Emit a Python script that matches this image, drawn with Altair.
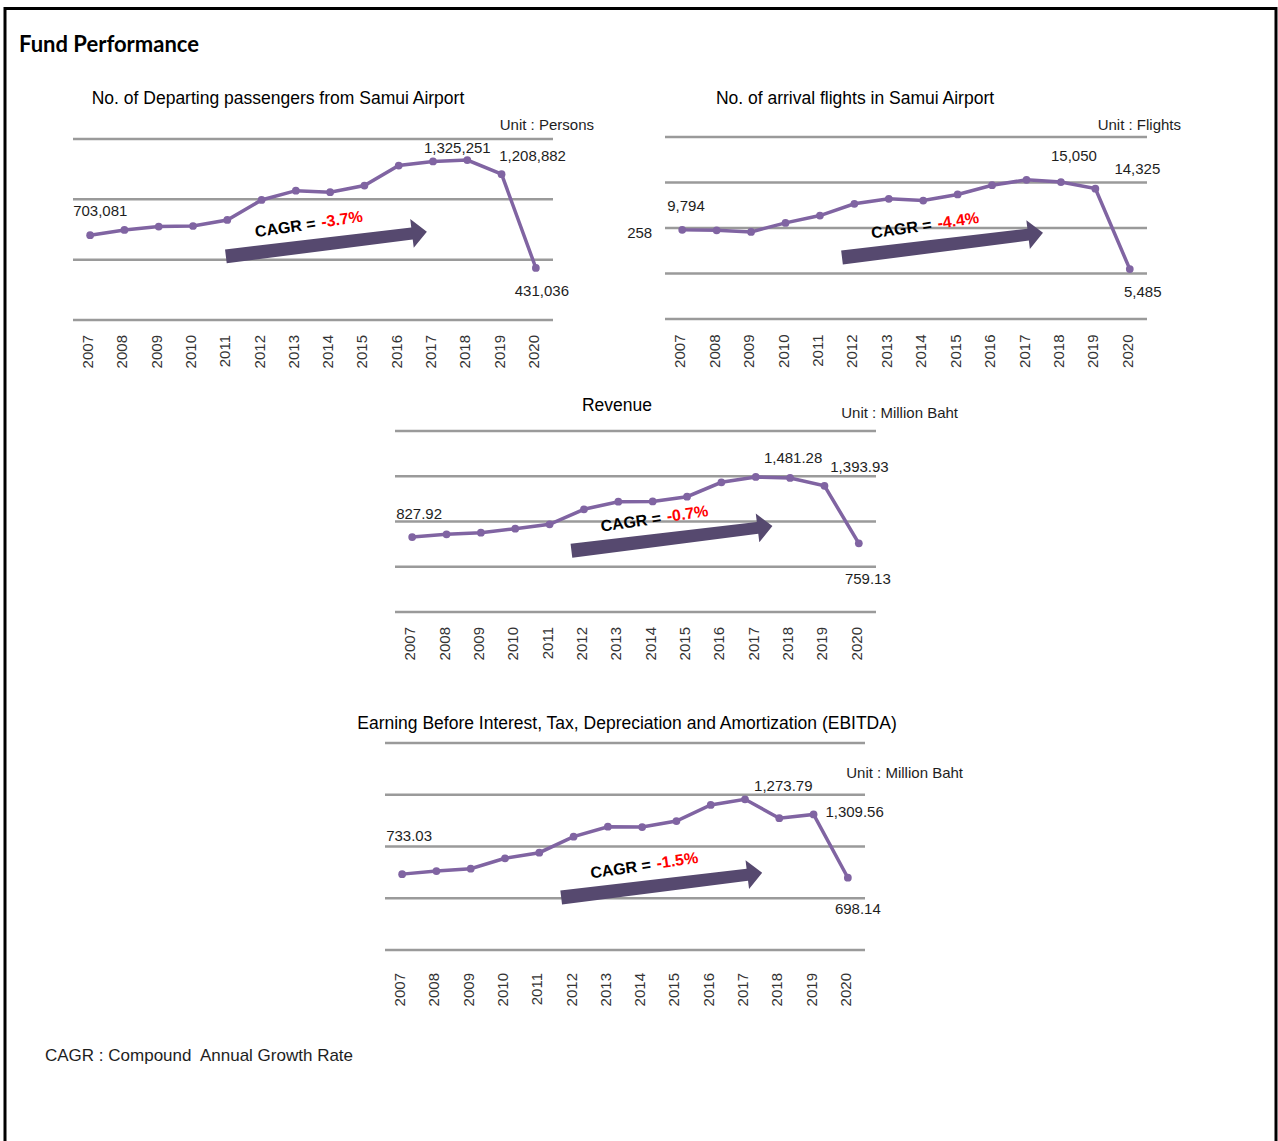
import altair as alt
import pandas as pd

# ---------------- data ----------------
years = list(range(2007, 2021))

passengers = [703081, 746000, 774000, 779000, 829000, 995000, 1072000, 1059000,
              1114000, 1280000, 1314000, 1325251, 1208882, 431036]
flights = [9794, 9750, 9570, 10560, 11370, 12660, 13210, 13020,
           13690, 14700, 15300, 15050, 14325, 5485]
revenue = [827.92, 858, 876, 921, 969, 1135, 1219, 1222,
           1274, 1433, 1492, 1481.28, 1393.93, 759.13]
ebitda = [733.03, 763, 786, 886, 940, 1095, 1191, 1188,
          1246, 1401, 1456, 1273.79, 1309.56, 698.14]

passenger_ticks = [0, 500000, 1000000, 1500000]
flight_ticks = [0, 5000, 10000, 15000, 20000]
revenue_ticks = [0, 500, 1000, 1500, 2000]
ebitda_ticks = [0, 500, 1000, 1500, 2000]

passenger_labels = [(2007, "703,081"), (2018, "1,325,251"), (2019, "1,208,882"), (2020, "431,036")]
flight_labels = [(2007, "9,794"), (2007, "258"), (2018, "15,050"), (2019, "14,325"), (2020, "5,485")]
revenue_labels = [(2007, "827.92"), (2018, "1,481.28"), (2019, "1,393.93"), (2020, "759.13")]
ebitda_labels = [(2007, "733.03"), (2018, "1,273.79"), (2019, "1,309.56"), (2020, "698.14")]

titles = [
    "No. of Departing passengers from Samui Airport",
    "No. of arrival flights in Samui Airport",
    "Revenue",
    "Earning Before Interest, Tax, Depreciation and Amortization (EBITDA)",
]
units = ["Unit : Persons", "Unit : Flights", "Unit : Million Baht", "Unit : Million Baht"]
cagr_values = ["-3.7%", "-4.4%", "-0.7%", "-1.5%"]

main_title = "Fund Performance"
footnote = "CAGR : Compound\u00a0 Annual Growth Rate"

# ---------------- styles / layout ----------------
FONT = "Liberation Sans"
PURPLE = "#8064a2"
ARROW = "#56496f"
GRID = "#9a9a9a"
TEXT = "#1e1e1e"
ARROW_PATH = ("M -1 -0.069 L 0.852 -0.059 L 0.852 -0.143 L 1 0 "
              "L 0.852 0.143 L 0.852 0.059 L -1 0.069 Z")

layouts = [
    dict(xr=[73, 553], yr=[320, 139], arrow=(2013.89, 630000), gap=15,
         title=(-35, -40), unit=(41, -14),
         offs=[("left", -17, -24), ("center", -10, -12), ("center", 31, -18), ("center", 6, 23)]),
    dict(xr=[665, 1147], yr=[319, 137], arrow=(2014.56, 8110), gap=15.5,
         title=(-51, -38), unit=(34, -12),
         offs=[("left", -15, -24), ("right", -30, 3), ("center", 13, -26), ("center", 42, -20), ("center", 13, 23)]),
    dict(xr=[395, 876], yr=[612, 431], arrow=(2014.56, 813), gap=15,
         title=(-18.5, -25), unit=(82, -18),
         offs=[("left", -16, -23), ("center", 3, -20), ("center", 35, -19), ("center", 9, 36)]),
    dict(xr=[385, 865], yr=[950, 743], arrow=(2014.57, 626), gap=23,
         title=(2, -19), unit=(98, 30),
         offs=[("left", -16, -38), ("center", 4, -32), ("center", 41, -2), ("center", 10, 31)]),
]


def panel(series, ticks, labels, title, unit, cagr, L):
    sx = alt.Scale(domain=[2006.5, 2020.5], range=L["xr"], nice=False, zero=False)
    sy = alt.Scale(domain=[ticks[0], ticks[-1]], range=L["yr"], nice=False, zero=False)

    def X(f):
        return alt.X(f, type="quantitative", scale=sx, axis=None)

    def Y(f):
        return alt.Y(f, type="quantitative", scale=sy, axis=None)

    df = pd.DataFrame({"year": years, "value": series,
                       "ylab": [str(y) for y in years], "base": ticks[0]})
    grid_df = pd.DataFrame({"v": ticks, "x0": 2006.5, "x1": 2020.5})

    grid = alt.Chart(grid_df).mark_rule(color=GRID, strokeWidth=2.5).encode(
        x=X("x0"), x2="x1", y=Y("v"))
    line = alt.Chart(df).mark_line(color=PURPLE, strokeWidth=3.5).encode(
        x=X("year"), y=Y("value"))
    pts = alt.Chart(df).mark_point(filled=True, size=60, color=PURPLE, opacity=1).encode(
        x=X("year"), y=Y("value"))
    yrs = alt.Chart(df).mark_text(angle=270, align="right", baseline="middle",
                                  dx=-L["gap"], dy=-2, fontSize=15, font=FONT,
                                  color="#333333").encode(
        x=X("year"), y=Y("base"), text="ylab:N")

    a_df = pd.DataFrame({"x": [L["arrow"][0]], "y": [L["arrow"][1]],
                         "c": ["CAGR ="], "p": [cagr]})
    arrow = alt.Chart(a_df).mark_point(shape=ARROW_PATH, size=202.5 ** 2, angle=353,
                                       filled=True, color=ARROW, strokeWidth=0,
                                       opacity=1).encode(x=X("x"), y=Y("y"))
    c1 = alt.Chart(a_df).mark_text(angle=352, align="right", baseline="middle",
                                   dx=-8, dy=-21.5, fontSize=16, fontWeight="bold",
                                   font=FONT, color="black").encode(
        x=X("x"), y=Y("y"), text="c:N")
    c2 = alt.Chart(a_df).mark_text(angle=352, align="left", baseline="middle",
                                   dx=-2, dy=-22, fontSize=16, fontWeight="bold",
                                   font=FONT, color="#ff0000").encode(
        x=X("x"), y=Y("y"), text="p:N")

    t_df = pd.DataFrame({"x": [2013.5, 2020.5], "y": [ticks[-1], ticks[-1]],
                         "t": [title, unit]})
    ttl = alt.Chart(t_df.iloc[[0]]).mark_text(align="center", baseline="middle",
                                              dx=L["title"][0], dy=L["title"][1],
                                              fontSize=17.5, font=FONT, color="black").encode(
        x=X("x"), y=Y("y"), text="t:N")
    unt = alt.Chart(t_df.iloc[[1]]).mark_text(align="right", baseline="middle",
                                              dx=L["unit"][0], dy=L["unit"][1],
                                              fontSize=15, font=FONT, color=TEXT).encode(
        x=X("x"), y=Y("y"), text="t:N")

    lab_layers = []
    for (yr, txt), (al, dx, dy) in zip(labels, L["offs"]):
        ldf = pd.DataFrame({"year": [yr], "value": [series[years.index(yr)]], "t": [txt]})
        lab_layers.append(
            alt.Chart(ldf).mark_text(align=al, baseline="middle", dx=dx, dy=dy,
                                     fontSize=15, font=FONT, color=TEXT).encode(
                x=X("year"), y=Y("value"), text="t:N"))

    return alt.layer(grid, line, pts, yrs, arrow, c1, c2, ttl, unt, *lab_layers)


p1 = panel(passengers, passenger_ticks, passenger_labels, titles[0], units[0], cagr_values[0], layouts[0])
p2 = panel(flights, flight_ticks, flight_labels, titles[1], units[1], cagr_values[1], layouts[1])
p3 = panel(revenue, revenue_ticks, revenue_labels, titles[2], units[2], cagr_values[2], layouts[2])
p4 = panel(ebitda, ebitda_ticks, ebitda_labels, titles[3], units[3], cagr_values[3], layouts[3])

one = pd.DataFrame({"t": [main_title], "f": [footnote]})
frame = alt.Chart(one).mark_rect(filled=False, color="black", strokeWidth=3).encode(
    x=alt.value(5), x2=alt.value(1276), y=alt.value(8.5), y2=alt.value(1180))
head = alt.Chart(one).mark_text(align="left", baseline="middle", fontSize=22,
                                fontWeight="bold", font="Lato", color="black").encode(
    x=alt.value(19), y=alt.value(45), text="t:N")
foot = alt.Chart(one).mark_text(align="left", baseline="middle", fontSize=17,
                                font=FONT, color=TEXT).encode(
    x=alt.value(45), y=alt.value(1056), text="f:N")

chart = alt.layer(frame, head, foot, p1, p2, p3, p4).resolve_scale(
    x="independent", y="independent"
).properties(
    width=1278, height=1141, padding=0,
    autosize=alt.AutoSizeParams(type="none"), background="white"
).configure_view(stroke=None)

chart.save("out.html", embed_options={"renderer": "svg", "actions": False})
